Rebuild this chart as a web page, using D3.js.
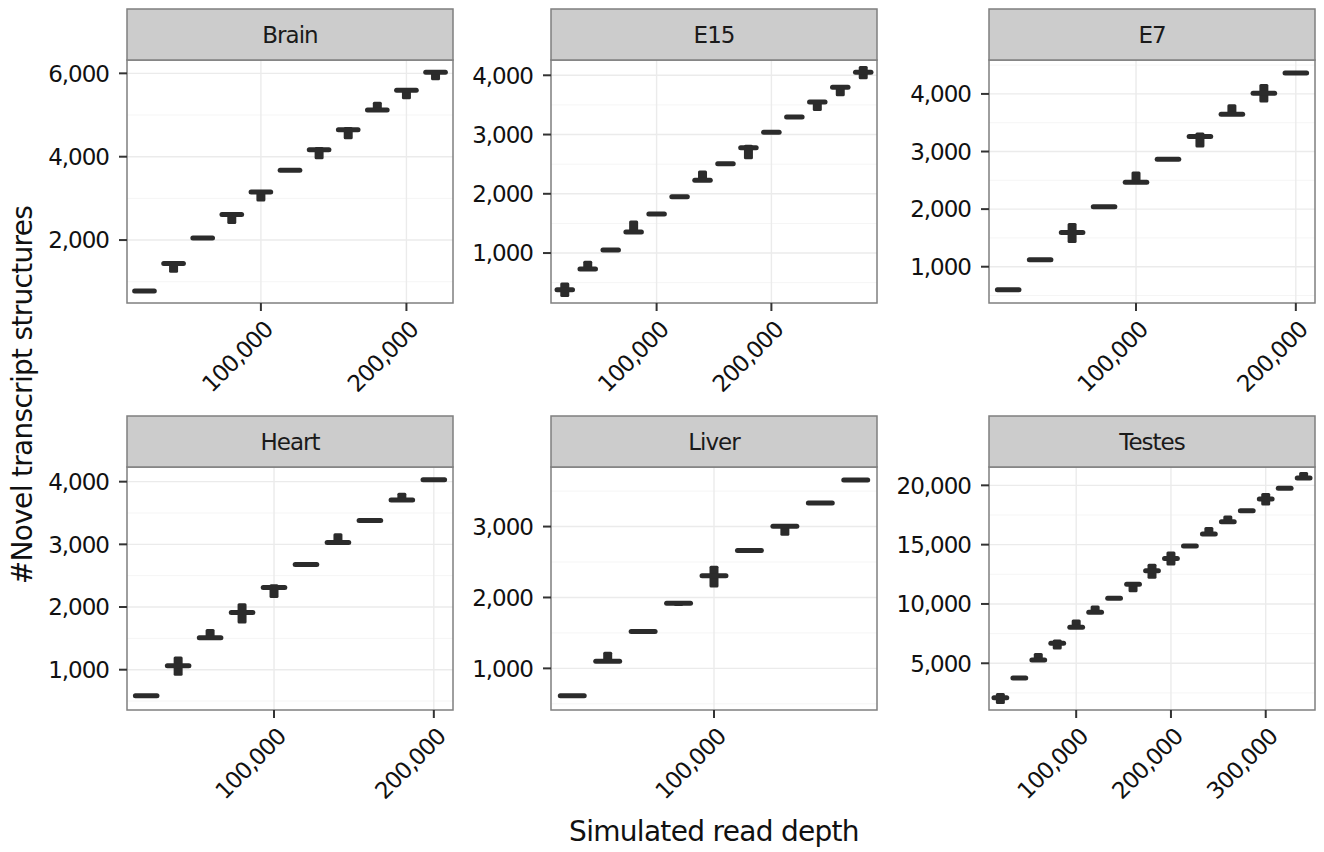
<!DOCTYPE html>
<html>
<head>
<meta charset="utf-8">
<script src="https://cdn.jsdelivr.net/npm/d3@7"></script>
<style>
  body { margin: 0; background: #ffffff; }
  text { font-family: "DejaVu Sans", sans-serif; }
</style>
</head>
<body>
<div id="chart"></div>
<script>
// facet names
var tissues = ["Brain", "E15", "E7", "Heart", "Liver", "Testes"];

// simulated read depths per facet
var brain_depth  = [20000, 40000, 60000, 80000, 100000, 120000, 140000, 160000, 180000, 200000, 220000];
var e15_depth    = [20000, 40000, 60000, 80000, 100000, 120000, 140000, 160000, 180000, 200000, 220000, 240000, 260000, 280000];
var e7_depth     = [20000, 40000, 60000, 80000, 100000, 120000, 140000, 160000, 180000, 200000];
var heart_depth  = [20000, 40000, 60000, 80000, 100000, 120000, 140000, 160000, 180000, 200000];
var liver_depth  = [20000, 40000, 60000, 80000, 100000, 120000, 140000, 160000, 180000];
var testes_depth = [20000, 40000, 60000, 80000, 100000, 120000, 140000, 160000, 180000, 200000, 220000, 240000, 260000, 280000, 300000, 320000, 340000];

// medians, lowest and highest values of each box
var brain_median = [776, 1440, 2048, 2616, 3152, 3672, 4168, 4648, 5120, 5592, 6024];
var brain_low    = [765, 1216, 2030, 2384, 2928, 3640, 3936, 4416, 5072, 5376, 5832];
var brain_high   = [785, 1488, 2065, 2672, 3180, 3710, 4232, 4712, 5320, 5620, 6050];

var e15_median = [382, 730, 1051, 1354, 1657, 1949, 2230, 2506, 2775, 3039, 3298, 3551, 3798, 4051];
var e15_low    = [260, 715, 1040, 1340, 1645, 1940, 2215, 2470, 2584, 3030, 3285, 3399, 3646, 3933];
var e15_high   = [505, 871, 1065, 1551, 1670, 1960, 2393, 2530, 2826, 3050, 3310, 3570, 3815, 4157];

var e7_median = [601, 1121, 1595, 2040, 2468, 2867, 3260, 3647, 4011, 4364];
var e7_low    = [590, 1100, 1410, 2025, 2455, 2850, 3069, 3630, 3850, 4355];
var e7_high   = [612, 1145, 1757, 2060, 2653, 2885, 3329, 3821, 4173, 4375];

var heart_median = [586, 1064, 1510, 1913, 2312, 2678, 3028, 3379, 3708, 4032];
var heart_low    = [570, 904, 1490, 1738, 2142, 2640, 3000, 3350, 3690, 4020];
var heart_high   = [600, 1212, 1648, 2062, 2365, 2715, 3177, 3410, 3825, 4045];

var liver_median = [615, 1099, 1521, 1920, 2305, 2662, 3005, 3333, 3657];
var liver_low    = [605, 1080, 1500, 1880, 2141, 2630, 2869, 3320, 3645];
var liver_high   = [625, 1235, 1545, 1940, 2446, 2690, 3030, 3350, 3670];

var testes_median = [2102, 3762, 5281, 6688, 8039, 9305, 10487, 11669, 12795, 13836, 14877, 15890, 16931, 17860, 18845, 19745, 20617];
var testes_low    = [1567, 3700, 5200, 6154, 7950, 9200, 10420, 10994, 12120, 13245, 14800, 15800, 16850, 17800, 18310, 19680, 20500];
var testes_high   = [2496, 3820, 5872, 6998, 8686, 9868, 10550, 11750, 13386, 14427, 14950, 16481, 17466, 17920, 19351, 19810, 21121];

// y axis limits and tick labels per facet
var y_limits = [[490, 6320], [157, 4258], [370, 4589], [357, 4234], [413, 3840], [1060, 21546]];
var y_ticks = [[2000, 4000, 6000], [1000, 2000, 3000, 4000], [1000, 2000, 3000, 4000],
               [1000, 2000, 3000, 4000], [1000, 2000, 3000], [5000, 10000, 15000, 20000]];
var x_ticks = [[100000, 200000], [100000, 200000], [100000, 200000],
               [100000, 200000], [100000], [100000, 200000, 300000]];

var depths  = [brain_depth, e15_depth, e7_depth, heart_depth, liver_depth, testes_depth];
var medians = [brain_median, e15_median, e7_median, heart_median, liver_median, testes_median];
var lows    = [brain_low, e15_low, e7_low, heart_low, liver_low, testes_low];
var highs   = [brain_high, e15_high, e7_high, heart_high, liver_high, testes_high];

// layout
var width = 1324;
var height = 852;
var col_x = [127, 551, 989];
var panel_w = 326;
var row_y = [60, 467];
var panel_h = 243;
var strip_h = 51;
var x_pad = 12000;
var box_w = 13500;
var ink = "#2b2b2b";
var tick_font = "23px";
var tick_space = "-1px";
var fmt = d3.format(",");

var svg = d3.select("#chart").append("svg")
    .attr("width", width)
    .attr("height", height);

tissues.forEach(function(name, i) {
    var px = col_x[i % 3];
    var py = row_y[Math.floor(i / 3)];
    var dep = depths[i];

    var x = d3.scaleLinear()
        .domain([d3.min(dep) - x_pad, d3.max(dep) + x_pad])
        .range([px, px + panel_w]);
    var y = d3.scaleLinear()
        .domain(y_limits[i])
        .range([py + panel_h, py]);

    var g = svg.append("g");

    // minor grid (y only)
    var step = y_ticks[i][1] - y_ticks[i][0];
    var minor = [];
    for (var v = y_ticks[i][0] - step / 2; v <= y_limits[i][1]; v += step) {
        if (v >= y_limits[i][0]) minor.push(v);
    }
    g.selectAll(".minor").data(minor).enter().append("line")
        .attr("x1", px).attr("x2", px + panel_w)
        .attr("y1", function(d) { return y(d); })
        .attr("y2", function(d) { return y(d); })
        .attr("stroke", "#f5f5f5").attr("stroke-width", 1);

    // major grid
    g.selectAll(".ymajor").data(y_ticks[i]).enter().append("line")
        .attr("x1", px).attr("x2", px + panel_w)
        .attr("y1", function(d) { return y(d); })
        .attr("y2", function(d) { return y(d); })
        .attr("stroke", "#ebebeb").attr("stroke-width", 1.4);
    g.selectAll(".xmajor").data(x_ticks[i]).enter().append("line")
        .attr("y1", py).attr("y2", py + panel_h)
        .attr("x1", function(d) { return x(d); })
        .attr("x2", function(d) { return x(d); })
        .attr("stroke", "#ebebeb").attr("stroke-width", 1.4);

    var rows = dep.map(function(d, j) {
        return {depth: d, median: medians[i][j], low: lows[i][j], high: highs[i][j]};
    });

    // whisker / outlier spread
    g.selectAll(".whisker").data(rows).enter().append("rect")
        .attr("x", function(d) { return x(d.depth) - 4.5; })
        .attr("y", function(d) { return y(d.high); })
        .attr("width", 9)
        .attr("height", function(d) { return Math.max(0, y(d.low) - y(d.high)); })
        .attr("rx", 1.5)
        .attr("fill", ink);

    // flat boxes at the median
    g.selectAll(".box").data(rows).enter().append("line")
        .attr("x1", function(d) { return x(d.depth - box_w / 2); })
        .attr("x2", function(d) { return x(d.depth + box_w / 2); })
        .attr("y1", function(d) { return y(d.median); })
        .attr("y2", function(d) { return y(d.median); })
        .attr("stroke", ink)
        .attr("stroke-width", 5)
        .attr("stroke-linecap", "round");

    // panel border
    g.append("rect")
        .attr("x", px).attr("y", py)
        .attr("width", panel_w).attr("height", panel_h)
        .attr("fill", "none")
        .attr("stroke", "#7f7f7f").attr("stroke-width", 1.5);

    // strip
    g.append("rect")
        .attr("x", px).attr("y", py - strip_h)
        .attr("width", panel_w).attr("height", strip_h)
        .attr("fill", "#cccccc")
        .attr("stroke", "#7f7f7f").attr("stroke-width", 1.5);
    g.append("text")
        .attr("x", px + panel_w / 2)
        .attr("y", py - strip_h / 2)
        .attr("dy", "0.35em")
        .attr("text-anchor", "middle")
        .attr("font-size", tick_font)
        .attr("letter-spacing", tick_space)
        .attr("fill", "#1a1a1a")
        .text(name);

    // y axis ticks and labels
    g.selectAll(".ytick").data(y_ticks[i]).enter().append("line")
        .attr("x1", px - 8).attr("x2", px)
        .attr("y1", function(d) { return y(d); })
        .attr("y2", function(d) { return y(d); })
        .attr("stroke", "#333333").attr("stroke-width", 2);
    g.selectAll(".ylab").data(y_ticks[i]).enter().append("text")
        .attr("x", px - 18)
        .attr("y", function(d) { return y(d); })
        .attr("dy", "0.36em")
        .attr("text-anchor", "end")
        .attr("font-size", tick_font)
        .attr("letter-spacing", tick_space)
        .attr("fill", "#111111")
        .text(function(d) { return fmt(d); });

    // x axis ticks and labels
    g.selectAll(".xtick").data(x_ticks[i]).enter().append("line")
        .attr("y1", py + panel_h).attr("y2", py + panel_h + 8)
        .attr("x1", function(d) { return x(d); })
        .attr("x2", function(d) { return x(d); })
        .attr("stroke", "#333333").attr("stroke-width", 2);
    g.selectAll(".xlab").data(x_ticks[i]).enter().append("text")
        .attr("transform", function(d) {
            return "translate(" + (x(d) + 1) + "," + (py + panel_h + 16) + ") rotate(-45)";
        })
        .attr("dy", "0.75em")
        .attr("text-anchor", "end")
        .attr("font-size", tick_font)
        .attr("letter-spacing", tick_space)
        .attr("fill", "#111111")
        .text(function(d) { return fmt(d); });
});

// axis titles
svg.append("text")
    .attr("x", 714)
    .attr("y", 841)
    .attr("text-anchor", "middle")
    .attr("font-size", "28px")
    .attr("letter-spacing", "-0.7px")
    .attr("fill", "#111111")
    .text("Simulated read depth");

svg.append("text")
    .attr("transform", "translate(32,395) rotate(-90)")
    .attr("text-anchor", "middle")
    .attr("font-size", "28px")
    .attr("letter-spacing", "-0.7px")
    .attr("fill", "#111111")
    .text("#Novel transcript structures");
</script>
</body>
</html>
